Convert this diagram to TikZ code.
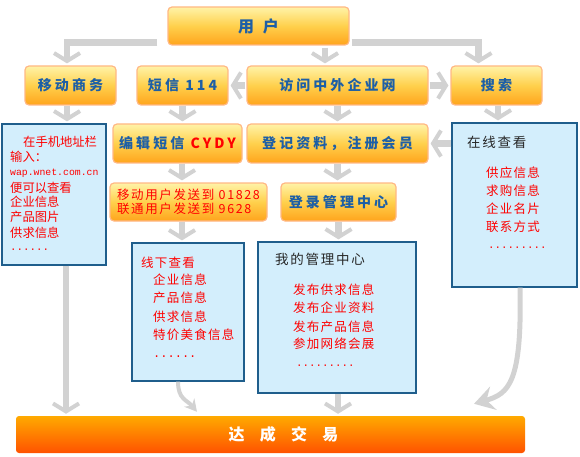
\documentclass[tikz,border=0pt]{standalone}
\usepackage{fontspec}
\setmainfont{Noto Sans CJK SC}
\setmonofont{Liberation Mono}
\newfontfamily\cjk{Noto Sans CJK SC}
\newfontfamily\cjknote[LetterSpace=10]{Noto Sans CJK SC}
\newfontfamily\cjkwide[LetterSpace=13]{Noto Sans CJK SC}
\newfontfamily\cjkbold[LetterSpace=22]{Noto Sans CJK SC}
\newfontfamily\cjkuser[LetterSpace=55]{Noto Sans CJK SC}
\newfontfamily\cjkbar[LetterSpace=95]{Noto Sans CJK SC}
\usepackage{tikz}
\usetikzlibrary{arrows.meta,calc}
\definecolor{boxtop}{HTML}{FFF3A8}
\definecolor{boxmid}{HTML}{FFD04C}
\definecolor{boxbot}{HTML}{FFA41C}
\definecolor{boxline}{HTML}{FFB884}
\definecolor{boxblue}{HTML}{1D5FA6}
\definecolor{infofill}{HTML}{D3EEFC}
\definecolor{infoline}{HTML}{1F5E8C}
\definecolor{bartop}{HTML}{FFAA00}
\definecolor{barbot}{HTML}{FF5200}
\definecolor{arrgray}{HTML}{D2D2D2}
\tikzset{box/.style={draw=boxline,line width=1.2pt,rounded corners=4pt,top color=boxtop,bottom color=boxbot,middle color=boxmid,text=boxblue,font=\cjkbold\bfseries\fontsize{14}{16}\selectfont,inner sep=0pt,minimum width=91pt,minimum height=39pt},infobox/.style={draw=infoline,fill=infofill,line width=1.2pt,inner sep=0pt},note/.style={anchor=west,inner sep=0pt,text=red,font=\cjknote\fontsize{12.5}{14}\selectfont},head/.style={note,text=black!85,font=\cjkwide\fontsize{13.5}{15}\selectfont},dots/.style={note,font=\ttfamily\fontsize{10.8}{12}\selectfont},arr/.style={draw=arrgray,line width=6.5pt,-{Straight Barb[length=8pt,width=26pt,line width=4pt]}},swoosh/.style={draw=arrgray,line width=4pt,-{Stealth[length=12pt,width=13pt]}},bar/.style={rounded corners=3pt,top color=bartop,bottom color=barbot,text=white,font=\cjkbar\bfseries\fontsize{16}{18}\selectfont,inner sep=0pt}}
\begin{document}
\begin{tikzpicture}[x=1pt,y=-1pt]
\useasboundingbox (0,0) rectangle (580,457);
\node[box,minimum width=181pt,minimum height=38pt,font=\cjkuser\bfseries\fontsize{16}{18}\selectfont] (user) at (258.5,26) {用户};
\node[box] (mobile) at (70.5,85.5) {移动商务};
\node[box] (sms) at (182.5,85.5) {短信 114};
\node[box,minimum width=181pt] (visit) at (337.5,85.5) {访问中外企业网};
\node[box] (search) at (496.5,85.5) {搜索};
\node[box,minimum width=129pt] (edit) at (177.5,143.5) {编辑短信 \textcolor{red}{CYDY}};
\node[box,minimum width=181pt] (register) at (337.5,143.5) {登记资料，注册会员};
\node[box,minimum width=157pt,minimum height=38pt,align=left,text=red,font=\cjkwide\fontsize{12.5}{14}\selectfont] (send) at (188.5,202) {移动用户发送到 01828\\联通用户发送到 9628};
\node[box,minimum width=115pt,minimum height=38pt] (login) at (338.5,202) {登录管理中心};
\node[infobox,minimum width=104pt,minimum height=141pt] (wapinfo) at (54,194.5) {};
\node[infobox,minimum width=125pt,minimum height=164pt] (online) at (514.5,205) {};
\node[infobox,minimum width=112pt,minimum height=138pt] (offline) at (188,312) {};
\node[infobox,minimum width=158pt,minimum height=151pt] (manage) at (337,317.5) {};
\node[bar,minimum width=509pt,minimum height=37pt] (deal) at (270.5,434.5) {\hspace*{26pt}达成交易};
\foreach \n/\x/\y/\t in {w1/23/142/在手机地址栏,w2/10/157/输入：,w4/10/188/便可以查看,w5/10/202/企业信息,w6/10/217/产品图片,w7/10/233/供求信息}
 {\node[note,font=\cjk\fontsize{12.3}{14}\selectfont] (\n) at (\x,\y) {\t};}
\node[note,font=\ttfamily\fontsize{9.8}{11}\selectfont] (w3) at (10,173) {wap.wnet.com.cn};
\node[dots] (w8) at (10,250) {......};
\node[head] (o0) at (467,142) {在线查看};
\foreach \n/\y/\t in {o1/173/供应信息,o2/191/求购信息,o3/209/企业名片,o4/227/联系方式}
 {\node[note] (\n) at (486,\y) {\t};}
\node[dots] (o5) at (488,248) {.........};
\foreach \n/\x/\y/\t in {f0/141/263/线下查看,f1/153/280/企业信息,f2/153/298/产品信息,f3/153/317/供求信息,f4/153/335/特价美食信息}
 {\node[note] (\n) at (\x,\y) {\t};}
\node[dots,font=\ttfamily\fontsize{12}{13}\selectfont] (f5) at (153,357) {......};
\node[head] (m0) at (275,259) {我的管理中心};
\foreach \n/\y/\t in {m1/290/发布供求信息,m2/308/发布企业资料,m3/327/发布产品信息,m4/344/参加网络会展}
 {\node[note] (\n) at (293,\y) {\t};}
\node[dots] (m5) at (296,366) {.........};
\draw[arr] ([xshift=-10pt,yshift=3pt]user.south west) -| ([xshift=-3.5pt,yshift=2pt]mobile.north);
\draw[arr] ([xshift=2pt,yshift=3pt]user.south east) -| ([xshift=-18pt,yshift=2pt]search.north);
\draw[arr] ([xshift=-12.5pt,yshift=-2pt]visit.north |- user.south) -- ([xshift=-12.5pt,yshift=2pt]visit.north);
\draw[arr] ([xshift=-1pt]visit.west) -- ([xshift=2pt]sms.east);
\draw[arr] ([xshift=1pt]visit.east) -- ([xshift=-2pt]search.west);
\draw[arr] ([xshift=-3.5pt]mobile.south) -- ([xshift=-3.5pt,yshift=2pt]mobile.south |- wapinfo.north);
\draw[arr] (sms.south) -- ([yshift=2pt]sms.south |- edit.north);
\draw[arr] (visit.south) -- ([yshift=2pt]register.north);
\draw[arr] ([xshift=1.5pt]search.south) -- ([xshift=1.5pt,yshift=2pt]search.south |- online.north);
\draw[arr] (online.west |- register.east) -- ([xshift=2pt]register.east);
\draw[arr] ([xshift=4.5pt]edit.south) -- ([xshift=4.5pt,yshift=2pt]edit.south |- send.north);
\draw[arr] (register.south) -- ([yshift=2pt]register.south |- login.north);
\draw[arr] ([xshift=-6.5pt]send.south) -- ([xshift=-6.5pt,yshift=2pt]send.south |- offline.north);
\draw[arr] (login.south) -- ([yshift=2pt]login.south |- manage.north);
\draw[arr] ([xshift=12pt]wapinfo.south) -- ([xshift=12pt,yshift=2pt]wapinfo.south |- deal.north);
\draw[arr] ([xshift=1pt]manage.south) -- ([xshift=1pt,yshift=2pt]manage.south |- deal.north);
\draw[swoosh] ([xshift=-10pt]offline.south) .. controls +(0,18) and +(-10,-12) .. ([xshift=-73.5pt,yshift=4pt]deal.north);
\draw[swoosh,line width=5pt,-{Stealth[length=20pt,width=24pt,inset=7pt]}] ([xshift=5.5pt]online.south) .. controls +(2,95) and +(35,-10) .. ([xshift=203.5pt,yshift=12pt]deal.north);
\end{tikzpicture}
\end{document}
